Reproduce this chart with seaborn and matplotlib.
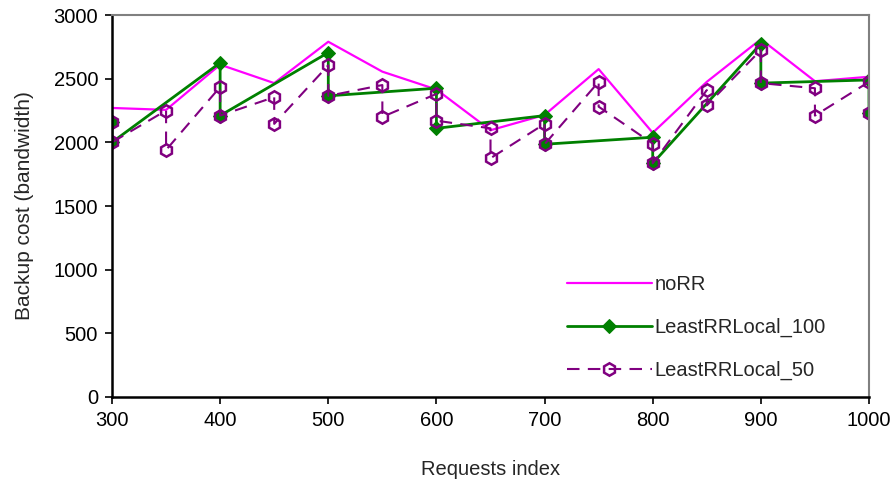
import matplotlib
matplotlib.use("Agg")
import matplotlib.pyplot as plt
import seaborn as sns
import pandas as pd

# ---- data ----
norr_x = [300, 350, 400, 450, 500, 550, 600, 650, 700, 750, 800, 850, 900, 950, 1000]
norr_y = [2270, 2255, 2610, 2465, 2790, 2555, 2415, 2095, 2215, 2575, 2075, 2475, 2810, 2480, 2515]

l100_x = [300, 300, 400, 400, 500, 500, 600, 600, 700, 700, 800, 800, 900, 900, 1000, 1000]
l100_y = [2160, 2000, 2625, 2210, 2705, 2365, 2425, 2110, 2210, 1985, 2040, 1835, 2775, 2465, 2490, 2230]

l50_x = [300, 300, 350, 350, 400, 400, 450, 450, 500, 500, 550, 550, 600, 600, 650, 650,
         700, 700, 750, 750, 800, 800, 850, 850, 900, 900, 950, 950, 1000, 1000]
l50_y = [2160, 2000, 2250, 1940, 2435, 2210, 2355, 2145, 2605, 2365, 2450, 2200, 2380, 2170,
         2110, 1875, 2145, 1985, 2475, 2280, 1990, 1835, 2410, 2290, 2725, 2465, 2425, 2210,
         2475, 2230]

series_names = ["noRR", "LeastRRLocal_100", "LeastRRLocal_50"]
x_ticks = [300, 400, 500, 600, 700, 800, 900, 1000]
y_ticks = [0, 500, 1000, 1500, 2000, 2500, 3000]

sns.set_style("white")
plt.rcParams['font.family'] = ['Liberation Sans', 'DejaVu Sans']
FS = 14.5

df_norr = pd.DataFrame({"x": norr_x, "y": norr_y})
df_100 = pd.DataFrame({"x": l100_x, "y": l100_y})
df_50 = pd.DataFrame({"x": l50_x, "y": l50_y})

fig = plt.figure(figsize=(8.93, 4.79), dpi=100)
ax = fig.add_axes([112/893, 1-397/479, (869-112)/893, (397-15)/479])

sns.lineplot(data=df_norr, x="x", y="y", ax=ax, sort=False, estimator=None,
             color="#FF00FF", linewidth=1.6, label=series_names[0])
sns.lineplot(data=df_100, x="x", y="y", ax=ax, sort=False, estimator=None,
             color="#008000", linewidth=2.0, marker="D", markersize=7,
             markerfacecolor="#008000", markeredgecolor="#008000",
             label=series_names[1])
sns.lineplot(data=df_50, x="x", y="y", ax=ax, sort=False, estimator=None,
             color="#800080", linewidth=1.5, marker="h", markersize=9,
             markerfacecolor="none", markeredgecolor="#800080", markeredgewidth=1.8,
             dashes=False, linestyle=(0, (6, 4)), label=series_names[2])

ax.set_xlim(300, 1000)
ax.set_ylim(0, 3000)
ax.set_xticks(x_ticks)
ax.set_yticks(y_ticks)
ax.set_xlabel("Requests index", fontsize=FS, labelpad=22)
ax.set_ylabel("Backup cost (bandwidth)", fontsize=15, labelpad=14)
ax.tick_params(axis="both", direction="out", length=5, width=1.2, colors="black",
               labelsize=FS)
ax.tick_params(axis="x", pad=5)
ax.tick_params(axis="y", pad=5)
ax.xaxis.set_ticks_position("bottom")
ax.yaxis.set_ticks_position("left")

for s in ["left", "bottom"]:
    ax.spines[s].set_color("black")
    ax.spines[s].set_linewidth(1.8)
for s in ["top", "right"]:
    ax.spines[s].set_color("#808080")
    ax.spines[s].set_linewidth(1.5)
for sp in ax.spines.values():
    sp.set_visible(True)
    sp.set_clip_on(False)

leg = ax.legend(loc="upper left", bbox_to_anchor=(567/893, 1-275/479),
                bbox_transform=fig.transFigure, frameon=False, borderpad=0,
                borderaxespad=0, handlelength=4.2, handletextpad=0.15,
                labelspacing=1.18, numpoints=1, fontsize=FS)

fig.savefig("out.png", dpi=100)
